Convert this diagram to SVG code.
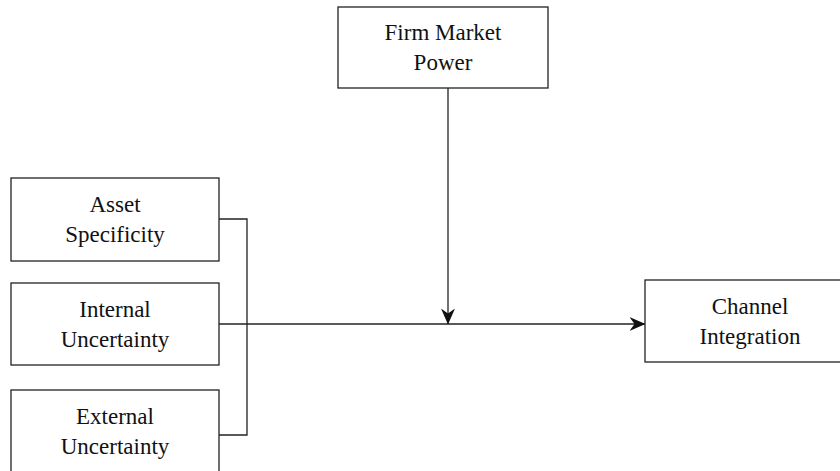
<svg xmlns="http://www.w3.org/2000/svg" width="840" height="471" viewBox="0 0 840 471">
<style>
.box{fill:#fff;stroke:#222;stroke-width:1.3}
.lbl{font-family:"Liberation Serif","Times New Roman",serif;font-size:23px;fill:#111;text-anchor:middle}
.conn{fill:none;stroke:#222;stroke-width:1.3}
</style>
<defs>
<marker id="arr" viewBox="0 0 16 14" refX="15.5" refY="7" markerWidth="16" markerHeight="14" markerUnits="userSpaceOnUse" orient="auto">
<path d="M0,0 L16,7 L0,14 L5,7 Z" fill="#111"/>
</marker>
</defs>
<rect width="840" height="471" fill="#fff"/>
<g id="connectors">
<polyline class="conn" points="219,219 247,219 247,435 219,435"/>
<line class="conn" x1="219" y1="324" x2="645" y2="324" marker-end="url(#arr)"/>
<line class="conn" x1="448" y1="88" x2="448" y2="324" marker-end="url(#arr)"/>
</g>
<g id="firm">
<rect class="box" x="338" y="7" width="210" height="81"/>
<text class="lbl" x="443" y="40">Firm Market</text>
<text class="lbl" x="443" y="70">Power</text>
</g>
<g id="asset">
<rect class="box" x="11" y="178" width="208" height="83"/>
<text class="lbl" x="115" y="212">Asset</text>
<text class="lbl" x="115" y="242">Specificity</text>
</g>
<g id="internal">
<rect class="box" x="11" y="283" width="208" height="82"/>
<text class="lbl" x="115" y="317">Internal</text>
<text class="lbl" x="115" y="347">Uncertainty</text>
</g>
<g id="external">
<rect class="box" x="11" y="390" width="208" height="82"/>
<text class="lbl" x="115" y="424">External</text>
<text class="lbl" x="115" y="454">Uncertainty</text>
</g>
<g id="channel">
<rect class="box" x="645" y="280" width="210" height="82"/>
<text class="lbl" x="750" y="314">Channel</text>
<text class="lbl" x="750" y="344">Integration</text>
</g>
</svg>
